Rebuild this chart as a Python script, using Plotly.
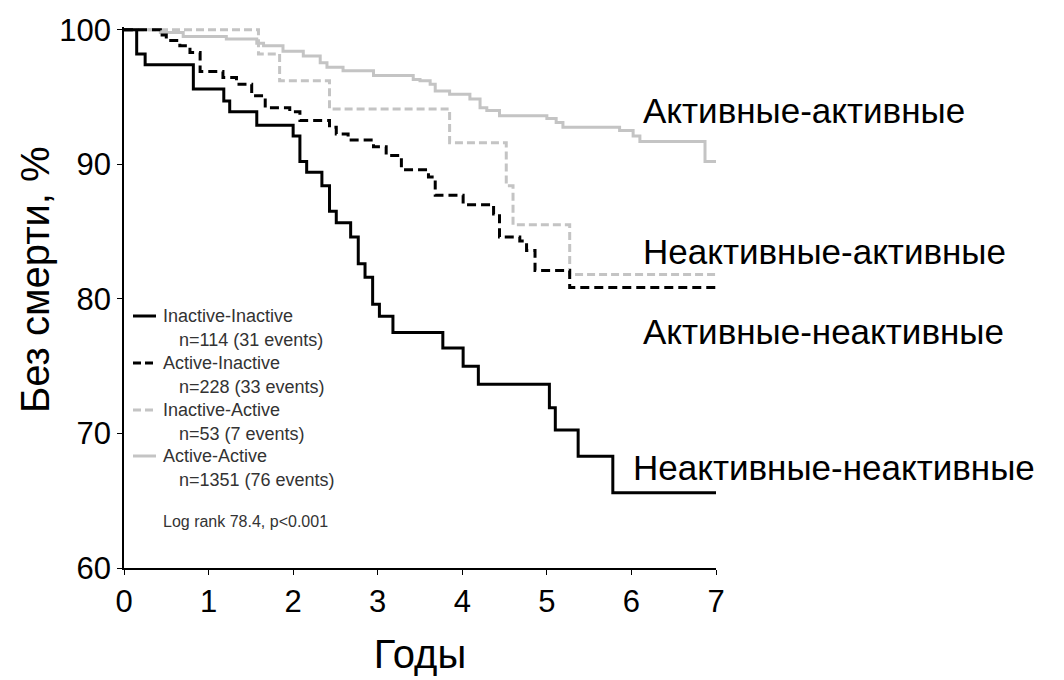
import plotly.graph_objects as go

# ---- data (years, survival %) ----
ii_t = [0, 0.15, 0.25, 0.82, 1.18, 1.25, 1.57, 2.0, 2.08, 2.16, 2.34, 2.43, 2.51, 2.68, 2.77, 2.85, 2.94, 3.02, 3.18, 3.77, 4.01, 4.19, 5.03, 5.10, 5.37, 5.78, 7.0]
ii_s = [100, 98.2, 97.4, 95.6, 94.7, 93.9, 92.9, 92.1, 90.2, 89.4, 88.4, 86.5, 85.65, 84.6, 82.6, 81.6, 79.6, 78.7, 77.5, 76.35, 75.0, 73.65, 71.9, 70.25, 68.3, 65.6, 65.6]

ai_t = [0, 0.43, 0.50, 0.66, 0.78, 0.90, 1.17, 1.33, 1.51, 1.67, 1.96, 2.08, 2.43, 2.51, 2.65, 2.95, 3.10, 3.28, 3.60, 3.68, 4.01, 4.37, 4.44, 4.68, 4.76, 4.86, 5.27, 7.0]
ai_s = [100, 99.6, 99.2, 98.8, 98.3, 96.9, 96.45, 95.95, 95.1, 94.2, 93.9, 93.25, 92.75, 92.25, 91.8, 91.3, 90.65, 89.6, 89.05, 87.7, 87.0, 86.3, 84.6, 84.3, 83.6, 82.1, 80.85, 80.85]

ia_t = [0, 1.59, 1.84, 2.43, 3.85, 4.52, 4.60, 5.27, 7.0]
ia_s = [100, 98.2, 96.2, 94.1, 91.6, 88.4, 85.5, 81.8, 81.8]

aa_t = [0, 0.43, 0.70, 1.21, 1.57, 1.65, 1.88, 2.12, 2.32, 2.40, 2.59, 2.95, 3.42, 3.50, 3.62, 3.68, 3.85, 4.09, 4.21, 4.29, 4.44, 5.00, 5.11, 5.19, 5.86, 6.02, 6.10, 6.87, 7.0]
aa_s = [100, 99.8, 99.5, 99.3, 99.0, 98.8, 98.4, 98.05, 97.55, 97.2, 96.95, 96.6, 96.3, 96.2, 95.95, 95.45, 95.2, 94.85, 94.2, 94.0, 93.6, 93.4, 93.1, 92.75, 92.5, 92.1, 91.7, 90.2, 90.2]

x_ticks = [0, 1, 2, 3, 4, 5, 6, 7]
y_ticks = [60, 70, 80, 90, 100]

legend_names = ["Inactive-Inactive", "Active-Inactive", "Inactive-Active", "Active-Active"]
legend_counts = ["n=114 (31 events)", "n=228 (33 events)", "n=53 (7 events)", "n=1351 (76 events)"]
stat_text = "Log rank 78.4, p<0.001"

group_labels = ["Активные-активные", "Неактивные-активные", "Активные-неактивные", "Неактивные-неактивные"]
label_x = [6.11, 6.11, 6.11, 5.99]
label_y = [94.0, 83.5, 77.6, 67.5]

x_title = "Годы"
y_title = "Без смерти, %"

FONT = "Liberation Sans, Arial, sans-serif"
styles = [
    dict(color="#000000", width=3, dash="solid"),
    dict(color="#000000", width=3, dash="9px,5px"),
    dict(color="#c4c4c4", width=3, dash="8px,4px"),
    dict(color="#c4c4c4", width=3, dash="solid"),
]
series = [(ii_t, ii_s), (ai_t, ai_s), (ia_t, ia_s), (aa_t, aa_s)]

fig = go.Figure()
# draw gray first so black is on top
for idx in [3, 2, 1, 0]:
    t, s = series[idx]
    fig.add_trace(go.Scatter(x=t, y=s, mode="lines", line_shape="hv",
                             line=styles[idx], name=legend_names[idx],
                             showlegend=False, hoverinfo="skip"))

# right-side group labels
for txt, lx, ly in zip(group_labels, label_x, label_y):
    fig.add_annotation(x=lx, y=ly, xref="x", yref="y", text=txt, showarrow=False,
                       xanchor="left", yanchor="middle",
                       font=dict(family=FONT, size=35, color="#000000"))

# custom legend (paper coordinates)
L, R, T, B = 124, 716, 27, 568
def px2paper(px, py):
    return (px - L) / (R - L), (B - py) / (B - T)

entry_y = [316, 363, 410, 456]
for i, ey in enumerate(entry_y):
    x0, y0 = px2paper(133, ey)
    x1, _ = px2paper(156, ey)
    st = styles[i]
    fig.add_shape(type="line", xref="paper", yref="paper", x0=x0, x1=x1, y0=y0, y1=y0,
                  line=dict(color=st["color"], width=st["width"],
                            dash="solid" if st["dash"] == "solid" else "8px,4px"))
    tx, ty = px2paper(161, ey)
    fig.add_annotation(x=tx, y=ty, xref="paper", yref="paper", text=legend_names[i],
                       showarrow=False, xanchor="left", yanchor="middle",
                       font=dict(family=FONT, size=18, color="#333333"))
    nx, ny = px2paper(177, ey + 24)
    fig.add_annotation(x=nx, y=ny, xref="paper", yref="paper", text=legend_counts[i],
                       showarrow=False, xanchor="left", yanchor="middle",
                       font=dict(family=FONT, size=18, color="#333333"))

sx, sy = px2paper(161, 521)
fig.add_annotation(x=sx, y=sy, xref="paper", yref="paper", text=stat_text,
                   showarrow=False, xanchor="left", yanchor="middle",
                   font=dict(family=FONT, size=16, color="#333333"))

# y-axis title as annotation (to match reference placement)
yx, yy = px2paper(35, 280)
fig.add_annotation(x=yx, y=yy, xref="paper", yref="paper", text=y_title,
                   showarrow=False, textangle=-90, xanchor="center", yanchor="middle",
                   font=dict(family=FONT, size=40, color="#000000"))

fig.update_layout(
    width=1064, height=680,
    margin=dict(l=124, r=348, t=27, b=112),
    paper_bgcolor="white", plot_bgcolor="white",
    showlegend=False,
    font=dict(family=FONT, color="#000000"),
)
fig.update_xaxes(range=[0, 7], tickmode="array", tickvals=x_ticks,
                 ticktext=[str(v) for v in x_ticks],
                 showgrid=False, zeroline=False, showline=True, linecolor="#000000", linewidth=1.5,
                 ticks="outside", ticklen=5, tickcolor="#000000",
                 tickfont=dict(family=FONT, size=31, color="#000000"),
                 title=dict(text=x_title, font=dict(family=FONT, size=40, color="#000000"), standoff=22))
fig.update_yaxes(range=[60, 100.2], tickmode="array", tickvals=y_ticks,
                 ticktext=[str(v) for v in y_ticks],
                 showgrid=False, zeroline=False, showline=True, linecolor="#000000", linewidth=1.5,
                 ticks="outside", ticklen=5, tickcolor="#000000",
                 tickfont=dict(family=FONT, size=31, color="#000000"))

fig.write_html("out.html")
